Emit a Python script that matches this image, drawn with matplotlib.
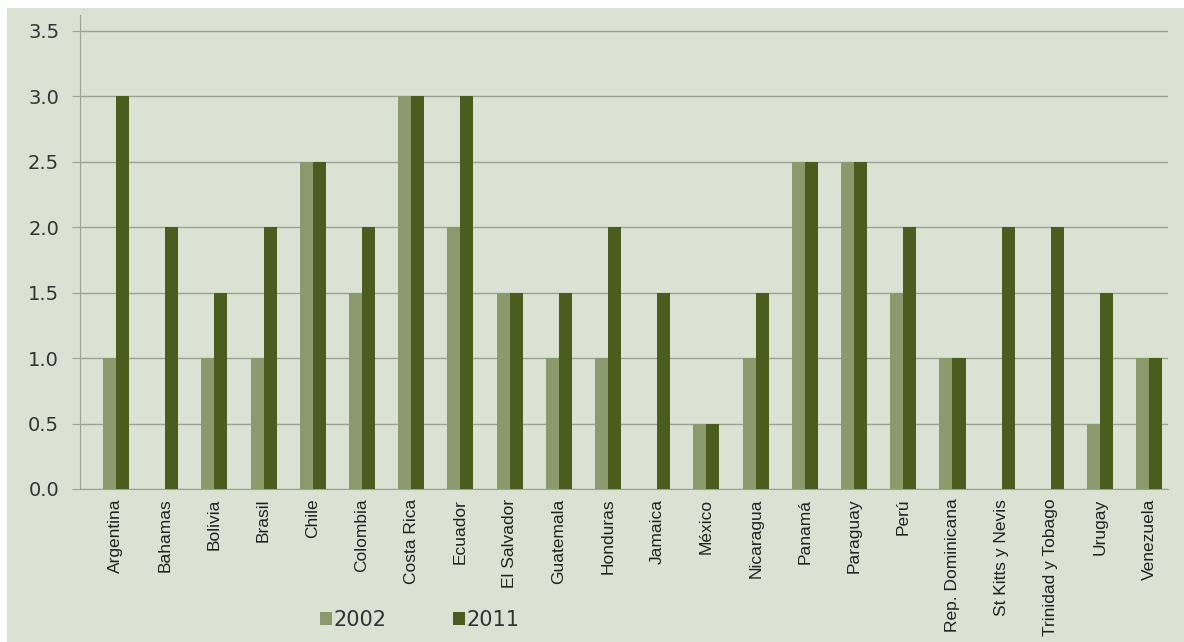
import numpy as np
import matplotlib
matplotlib.use("Agg")
import matplotlib.pyplot as plt
from matplotlib.patches import Rectangle

paises = ["Argentina", "Bahamas", "Bolivia", "Brasil", "Chile", "Colombia",
          "Costa Rica", "Ecuador", "El Salvador", "Guatemala", "Honduras",
          "Jamaica", "México", "Nicaragua", "Panamá", "Paraguay", "Perú",
          "Rep. Dominicana", "St Kitts y Nevis", "Trinidad y Tobago",
          "Urugay", "Venezuela"]
v2002 = [1.0, 0, 1.0, 1.0, 2.5, 1.5, 3.0, 2.0, 1.5, 1.0, 1.0,
         0, 0.5, 1.0, 2.5, 2.5, 1.5, 1.0, 0, 0, 0.5, 1.0]
v2011 = [3.0, 2.0, 1.5, 2.0, 2.5, 2.0, 3.0, 3.0, 1.5, 1.5, 2.0,
         1.5, 0.5, 1.5, 2.5, 2.5, 2.0, 1.0, 2.0, 2.0, 1.5, 1.0]
yticks = [0.0, 0.5, 1.0, 1.5, 2.0, 2.5, 3.0, 3.5]

bg = "#dbe1d3"
c2002 = "#8b9a6c"
c2011 = "#4a5d1f"
grid_c = "#9da295"
txt_c = "#333333"

fig = plt.figure(figsize=(11.84, 6.42), dpi=100)
fig.patch.set_facecolor("white")
# background panel (the picture has a thin white strip at top and left)
fig.patches.append(Rectangle((7 / 1184, 0), 1, 1 - 8 / 642, transform=fig.transFigure,
                             facecolor=bg, edgecolor="none", zorder=-10))

ax = fig.add_axes([80 / 1184, 1 - 489 / 642, (1168 - 80) / 1184, (489 - 15) / 642])
ax.set_facecolor(bg)

x = np.arange(len(paises))
w = 0.265
ax.bar(x - w / 2, v2002, width=w, color=c2002, label="2002", zorder=3)
ax.bar(x + w / 2, v2011, width=w, color=c2011, label="2011", zorder=3)

ax.set_xlim(-0.73, 21.38)
ax.set_ylim(0, 3.62)
ax.set_yticks(yticks)
ax.set_yticklabels([f"{t:.1f}" for t in yticks], fontsize=14, color=txt_c,
                   family="DejaVu Sans")
ax.set_xticks(x)
ax.set_xticklabels(paises, rotation=90, fontsize=12.5, color="#222222",
                   family="Liberation Sans")
ax.tick_params(axis="x", length=0, pad=7)
ax.tick_params(axis="y", length=6, color=grid_c, pad=9)
ax.yaxis.grid(True, color=grid_c, linewidth=1)
ax.set_axisbelow(True)

for s in ["top", "right"]:
    ax.spines[s].set_visible(False)
ax.spines["left"].set_color(grid_c)
ax.spines["bottom"].set_color(grid_c)

leg = fig.legend(loc="center", bbox_to_anchor=(420 / 1184, 1 - 620 / 642), ncol=2,
                 frameon=False, handlelength=0.55, handleheight=0.55,
                 handletextpad=0.1, columnspacing=3.2,
                 prop={"family": "DejaVu Sans", "size": 15})
for t in leg.get_texts():
    t.set_color(txt_c)

fig.savefig("out.png", dpi=100, facecolor=fig.get_facecolor())
